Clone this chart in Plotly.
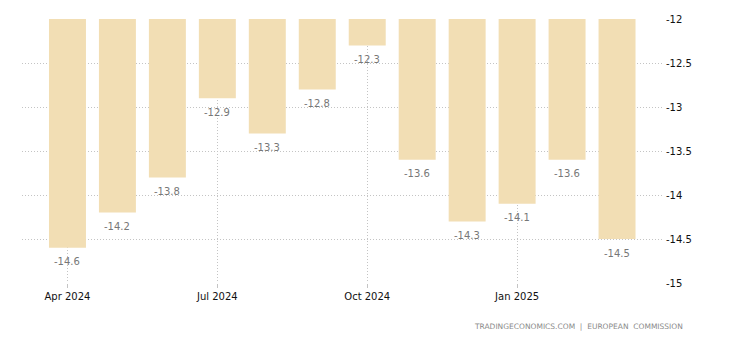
import plotly.graph_objects as go

months = ["2024-04", "2024-05", "2024-06", "2024-07", "2024-08", "2024-09",
          "2024-10", "2024-11", "2024-12", "2025-01", "2025-02", "2025-03"]
values = [-14.6, -14.2, -13.8, -12.9, -13.3, -12.8, -12.3, -13.6, -14.3, -14.1, -13.6, -14.5]
tick_months = ["2024-04", "2024-07", "2024-10", "2025-01"]
tick_labels = ["Apr 2024", "Jul 2024", "Oct 2024", "Jan 2025"]
y_ticks = [-12, -12.5, -13, -13.5, -14, -14.5, -15]
base_value = -12

FONT = "DejaVu Sans, Verdana, sans-serif"

fig = go.Figure()
fig.add_trace(go.Bar(
    x=months, y=[v - base_value for v in values], base=base_value,
    marker=dict(color="#F2DEB4", line=dict(width=0)),
    width=0.74, hoverinfo="skip",
))

for m, v in zip(months, values):
    fig.add_annotation(x=m, y=v, text=f"{v:g}", showarrow=False, yshift=-14,
                       font=dict(family=FONT, size=10, color="#777777"))

fig.add_annotation(xref="paper", yref="paper", x=1.036, y=-0.163, xanchor="right", yanchor="middle",
                   text="TRADINGECONOMICS.COM  |  EUROPEAN  COMMISSION", showarrow=False,
                   font=dict(family=FONT, size=7.5, color="#8a8a8a"))

grid_col = "#c4c4c4"
fig.update_layout(
    width=730, height=340,
    margin=dict(l=22, r=68, t=19, b=57),
    plot_bgcolor="white", paper_bgcolor="white",
    showlegend=False,
    font=dict(family=FONT, size=10, color="#111"),
    xaxis=dict(type="category", categoryorder="array", categoryarray=months,
               range=[-0.91, 11.9],
               tickvals=tick_months, ticktext=tick_labels,
               showgrid=True, gridcolor=grid_col, griddash="1px,2px", gridwidth=1,
               ticks="outside", ticklen=4, tickcolor=grid_col,
               showline=False, zeroline=False,
               tickfont=dict(family=FONT, size=10, color="#111")),
    yaxis=dict(side="right", range=[-15, -12], tickvals=y_ticks,
               ticktext=[f"{t:g}" for t in y_ticks],
               showgrid=True, gridcolor=grid_col, griddash="1px,2px", gridwidth=1,
               zeroline=False, showline=False, ticks="", ticklabelstandoff=3,
               tickfont=dict(family=FONT, size=10, color="#111")),
)

fig.write_html("out.html")
